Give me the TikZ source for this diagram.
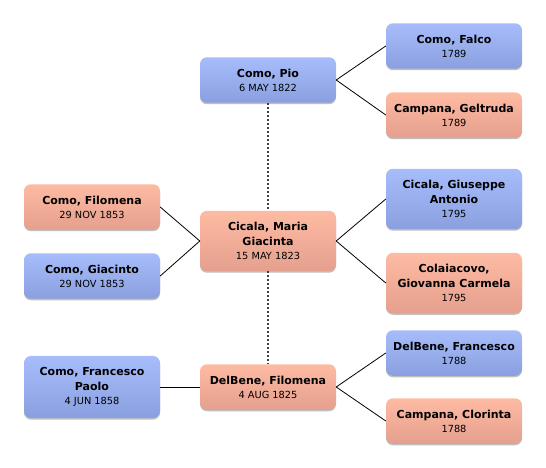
\documentclass[tikz,border=0pt]{standalone}
\usepackage{fontspec}
\setmainfont{DejaVu Sans}
\usetikzlibrary{shadows,positioning}

\definecolor{maletop}{HTML}{A7BDFB}
\definecolor{malebottom}{HTML}{8A9FDF}
\definecolor{femaletop}{HTML}{FEBBA3}
\definecolor{femalebottom}{HTML}{E59F8E}

\tikzset{
  person/.style={rounded corners=7pt, minimum width=136pt, minimum height=44pt,
    inner xsep=2pt, inner ysep=11.5pt, align=center,
    font=\fontsize{11}{15}\selectfont\bfseries,
    drop shadow={shadow xshift=0pt, shadow yshift=-1.5pt, opacity=0.25, fill=black}},
  male/.style={person, top color=maletop, bottom color=malebottom},
  female/.style={person, top color=femaletop, bottom color=femalebottom},
  link/.style={black, line width=0.8pt},
  sibling/.style={black!75, line width=1.3pt, dash pattern=on 2pt off 2pt}
}
\newcommand{\dt}[1]{\\[-1pt]{\mdseries\fontsize{9.8}{12}\selectfont #1}}

\begin{document}
\begin{tikzpicture}[x=1pt, y=-1pt]
  \useasboundingbox (0,0) rectangle (546,468);

  % Center column
  \node[male]   (pio)     at (268,80)  {Como, Pio\dt{6 MAY 1822}};
  \node[female] (maria)   at (268,241) {Cicala, Maria\\Giacinta\dt{15 MAY 1823}};
  \node[female] (delfil)  at (268,387) {DelBene, Filomena\dt{4 AUG 1825}};

  % Parents (right column)
  \node[male]   (falco)   at (454,46)  {Como, Falco\dt{1789}};
  \node[female] (geltr)   at (454,115) {Campana, Geltruda\dt{1789}};
  \node[male]   (giusep)  at (454,199) {Cicala, Giuseppe\\Antonio\dt{1795}};
  \node[female] (giovan)  at (454,283) {Colaiacovo,\\Giovanna Carmela\dt{1795}};
  \node[male]   (delfra)  at (454,353) {DelBene, Francesco\dt{1788}};
  \node[female] (clorin)  at (454,421) {Campana, Clorinta\dt{1788}};

  % Children (left column)
  \node[female] (filom)   at (92,207)  {Como, Filomena\dt{29 NOV 1853}};
  \node[male]   (giacin)  at (92,276)  {Como, Giacinto\dt{29 NOV 1853}};
  \node[male]   (franc)   at (92,387)  {Como, Francesco\\Paolo\dt{4 JUN 1858}};

  % Links to parents
  \draw[link] (pio.east) -- (falco.west);
  \draw[link] (pio.east) -- (geltr.west);
  \draw[link] (maria.east) -- (giusep.west);
  \draw[link] (maria.east) -- (giovan.west);
  \draw[link] (delfil.east) -- (delfra.west);
  \draw[link] (delfil.east) -- (clorin.west);

  % Links to children
  \draw[link] (filom.east) -- (maria.west);
  \draw[link] (giacin.east) -- (maria.west);
  \draw[link] (franc.east) -- (delfil.west);

  % Siblings
  \draw[sibling] (pio.south) -- (maria.north);
  \draw[sibling] (maria.south) -- (delfil.north);
\end{tikzpicture}
\end{document}
